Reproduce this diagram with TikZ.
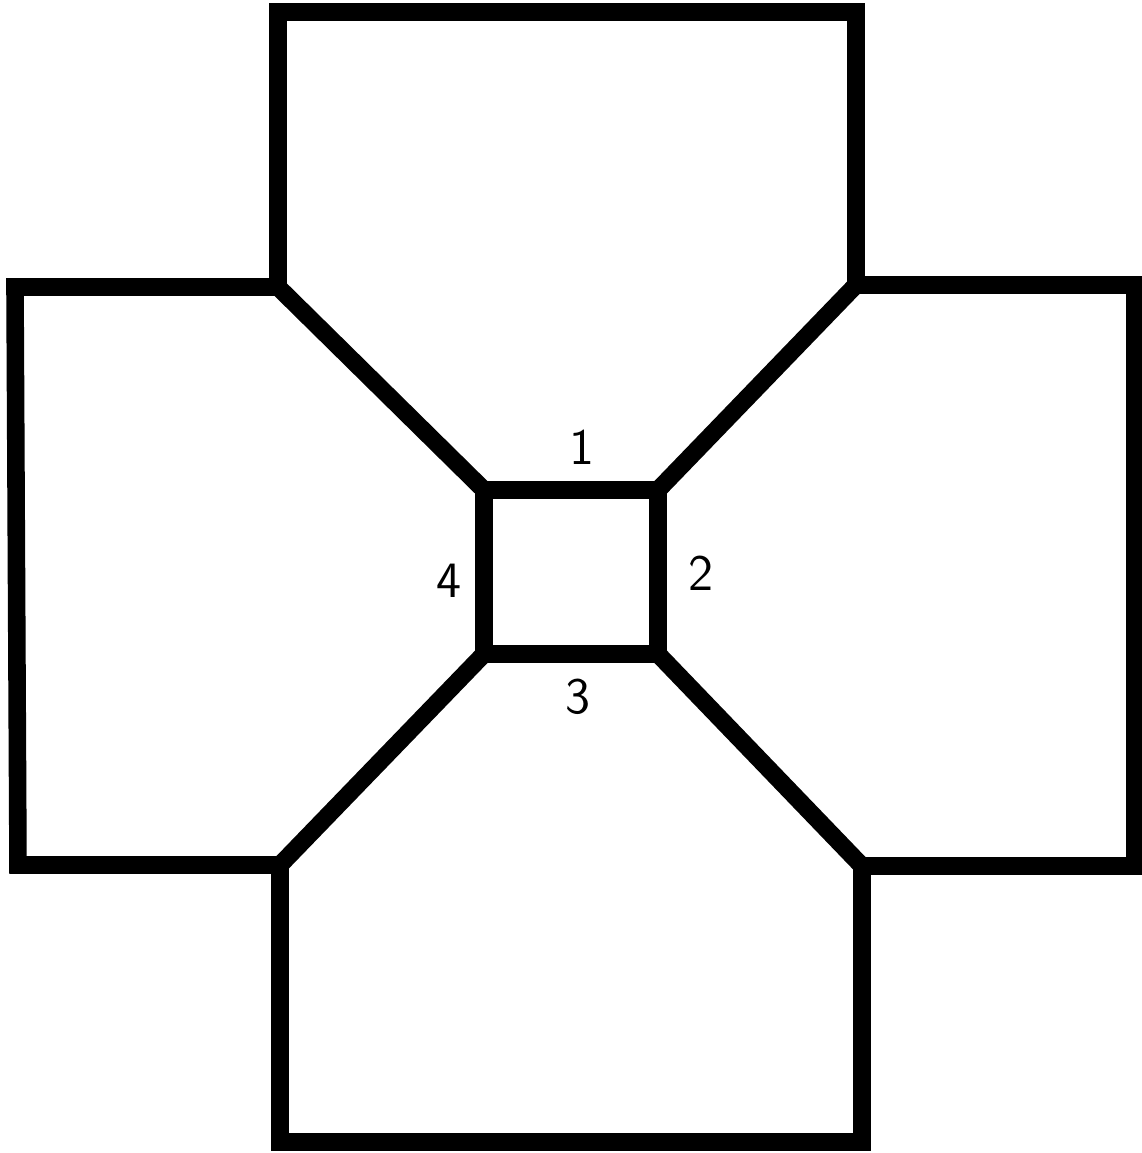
\documentclass[tikz,border=0pt]{standalone}

\tikzset{every picture/.style={line width=5pt}}
\tikzset{wall/.style={draw=black, line join=miter}}
\tikzset{sidelabel/.style={font=\sffamily\fontsize{14.5}{16}\selectfont}}

\begin{document}
\begin{tikzpicture}[x=0.01cm, y=-0.01cm]
    \useasboundingbox (0,0) rectangle (1142,1153);
    % centre square
    \coordinate (sqa) at (484,490);
    \coordinate (sqb) at (658,490);
    \coordinate (sqc) at (658,654);
    \coordinate (sqd) at (484,654);
    % outer corners where rooms meet
    \coordinate (nw) at (278,287);
    \coordinate (ne) at (856,285);
    \coordinate (se) at (862,866);
    \coordinate (sw) at (280,865);
    \draw[wall] (sqa) -- (sqb) -- (sqc) -- (sqd) -- cycle;
    \draw[wall] (sqa) -- (nw);
    \draw[wall] (sqb) -- (ne);
    \draw[wall] (sqc) -- (se);
    \draw[wall] (sqd) -- (sw);
    % top room
    \draw[wall] (nw) -- (278,12) -- (856,12) -- (ne);
    % right room
    \draw[wall] (ne) -- (1135,285) -- (1135,866) -- (se);
    % bottom room
    \draw[wall] (se) -- (862,1142) -- (280,1142) -- (sw);
    % left room
    \draw[wall] (sw) -- (18,865) -- (15,287) -- (nw);
    \node[sidelabel] (side1) at (582,447) {1};
    \node[sidelabel] (side2) at (701,573) {2};
    \node[sidelabel] (side3) at (578,697) {3};
    \node[sidelabel] (side4) at (449,581) {4};
\end{tikzpicture}
\end{document}
